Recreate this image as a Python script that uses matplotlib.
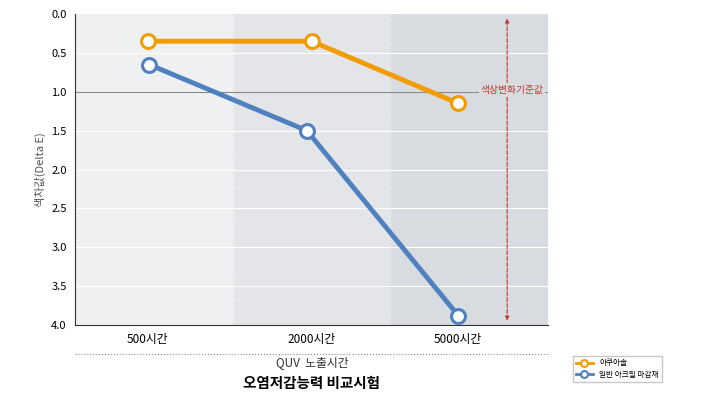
import matplotlib.pyplot as plt
from matplotlib import font_manager
from matplotlib.lines import Line2D

# pick whatever CJK family is actually registered
names = sorted({f.name for f in font_manager.fontManager.ttflist})
cjk = [n for n in names if "CJK" in n]
pref = [n for n in cjk if n.endswith("KR")] + cjk
plt.rcParams['font.family'] = (pref[:1] if pref else []) + ['DejaVu Sans']

categories = ["500시간", "2000시간", "5000시간"]
cat_pos = [0.46, 1.5, 2.43]
aqua = [0.35, 0.35, 1.15]
blue_pos = [0.47, 1.47, 2.43]
acrylic = [0.65, 1.5, 3.88]
threshold = 1.0

fig = plt.figure(figsize=(7.01, 4.0), dpi=100)
ax = fig.add_axes([0.107, 0.1875, 0.675, 0.7775])

for i, c in enumerate(["#eef0f2", "#e3e5e8", "#d8dbdf"]):
    ax.axvspan(i, i + 1, color=c, zorder=0)
ax.axvline(1, color="white", ls=":", lw=0.8, zorder=1)
ax.axvline(2, color="white", ls=":", lw=0.8, zorder=1)
for y in [0.5, 1.5, 2.0, 2.5, 3.0, 3.5]:
    ax.axhline(y, color="white", lw=0.8, zorder=1)
ax.axhline(threshold, color="#8a8a8a", lw=0.8, zorder=1)

ax.plot(cat_pos, aqua, color="#f39c00", lw=3.5, marker="o", ms=10,
        mfc="white", mec="#f39c00", mew=2.2, zorder=3)
ax.plot(blue_pos, acrylic, color="#4f80c0", lw=3.5, marker="o", ms=10,
        mfc="white", mec="#4f80c0", mew=2.2, zorder=3)

ax.annotate("", xy=(2.74, 0.02), xytext=(2.74, 3.98),
            arrowprops=dict(arrowstyle="<|-|>", color="#c0392b", lw=0.8, ls="--",
                            mutation_scale=6), zorder=2)
ax.text(2.77, 0.97, "색상변화기준값", color="#c0392b", fontsize=7, ha="center",
        va="center", bbox=dict(facecolor="#d8dbdf", edgecolor="none", pad=1), zorder=4)

ax.set_xlim(0, 3)
ax.set_ylim(4.0, 0.0)
ticks = [0, 0.5, 1.0, 1.5, 2.0, 2.5, 3.0, 3.5, 4.0]
ax.set_yticks(ticks)
ax.set_yticklabels([f"{v:.1f}" for v in ticks], fontsize=8)
ax.set_xticks(cat_pos)
ax.set_xticklabels(categories, fontsize=8.5)
ax.tick_params(length=0, pad=6)
ax.set_ylabel("색차값(Delta E)", fontsize=8, color="#555555")
for s in ax.spines.values():
    s.set_visible(False)
ax.spines["left"].set_visible(True)
ax.spines["bottom"].set_visible(True)
ax.spines["left"].set_color("#333333")
ax.spines["bottom"].set_color("#333333")

fig.add_artist(Line2D([0.107, 0.782], [0.115, 0.115], color="#888888", ls=":", lw=0.8))
fig.text(0.445, 0.085, "QUV  노출시간", ha="center", fontsize=8.5, color="#333333")
fig.text(0.445, 0.03, "오염저감능력 비교시험", ha="center", fontsize=10.5, weight="bold")

handles = [Line2D([], [], color="#f39c00", lw=2, marker="o", ms=5, mfc="white", mew=1.5),
           Line2D([], [], color="#4f80c0", lw=2, marker="o", ms=5, mfc="white", mew=1.5)]
fig.legend(handles, ["아쿠아솔", "일반 아크릴 마감재"], loc="lower left",
           bbox_to_anchor=(0.812, 0.035), fontsize=5.5, frameon=True, edgecolor="#bbbbbb",
           fancybox=False, handlelength=2.2)

fig.savefig("out.png", dpi=100)
